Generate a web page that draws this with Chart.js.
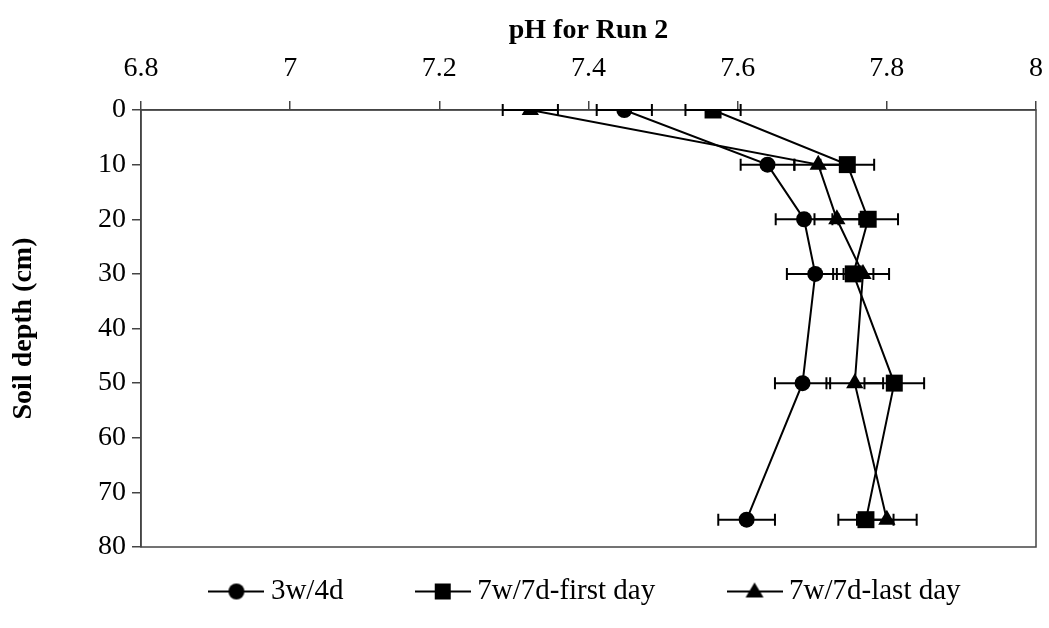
<!DOCTYPE html>
<html>
<head>
<meta charset="utf-8">
<script src="https://cdn.jsdelivr.net/npm/chart.js@4.4.1/dist/chart.umd.min.js"></script>
<style>
  html, body { margin: 0; padding: 0; background: #fff; }
  #wrap { width: 1049px; height: 628px; }
</style>
</head>
<body>
<div id="wrap"><canvas id="chart" width="1049" height="628"></canvas></div>
<script>
// ─── Data ──────────────────────────────────────────
const depths = [0, 10, 20, 30, 50, 75];

const ph3w4d = [7.448, 7.640, 7.689, 7.704, 7.687, 7.612];
const err3w4d = [0.037, 0.036, 0.038, 0.038, 0.037, 0.038];

const ph7wFirst = [7.567, 7.747, 7.775, 7.755, 7.810, 7.772];
const err7wFirst = [0.037, 0.036, 0.040, 0.027, 0.040, 0.037];

const ph7wLast = [7.322, 7.708, 7.733, 7.768, 7.757, 7.800];
const err7wLast = [0.037, 0.032, 0.030, 0.035, 0.038, 0.040];

const seriesLabels = ['3w/4d', '7w/7d-first day', '7w/7d-last day'];

const FONT = '"Liberation Serif", "Times New Roman", serif';
const AXIS_COLOR = '#444';

// ─── Legend symbols (line - marker - line) ─────────

function legendSymbol(kind) {
  const c = document.createElement('canvas');
  c.width = 56;
  c.height = 24;
  const g = c.getContext('2d');
  g.strokeStyle = '#000';
  g.fillStyle = '#000';
  g.lineWidth = 2;
  g.beginPath();
  g.moveTo(0, 12);
  g.lineTo(56, 12);
  g.stroke();
  g.beginPath();
  if (kind === 'circle') {
    g.arc(28, 12, 8, 0, Math.PI * 2);
  } else if (kind === 'rect') {
    g.rect(20, 4, 16, 16);
  } else {
    g.moveTo(28, 3);
    g.lineTo(37, 18);
    g.lineTo(19, 18);
    g.closePath();
  }
  g.fill();
  return c;
}

function toPoints(ys) {
  return ys.map((v, i) => ({ x: v, y: depths[i] }));
}

// ─── Plugins ───────────────────────────────────────

const errorBars = {
  id: 'errorBars',
  beforeDatasetsDraw(chart) {
    const { ctx, scales: { x, y } } = chart;
    ctx.save();
    ctx.strokeStyle = '#000';
    ctx.lineWidth = 2;
    chart.data.datasets.forEach((ds) => {
      ds.data.forEach((p, i) => {
        const e = ds.errors[i];
        const x0 = x.getPixelForValue(p.x - e);
        const x1 = x.getPixelForValue(p.x + e);
        const py = y.getPixelForValue(p.y);
        ctx.beginPath();
        ctx.moveTo(x0, py);
        ctx.lineTo(x1, py);
        ctx.moveTo(x0, py - 6);
        ctx.lineTo(x0, py + 6);
        ctx.moveTo(x1, py - 6);
        ctx.lineTo(x1, py + 6);
        ctx.stroke();
      });
    });
    ctx.restore();
  },
};

const plotFrame = {
  id: 'plotFrame',
  beforeDatasetsDraw(chart) {
    const { ctx, chartArea: a } = chart;
    ctx.save();
    ctx.strokeStyle = AXIS_COLOR;
    ctx.lineWidth = 1.5;
    ctx.strokeRect(a.left, a.top, a.right - a.left, a.bottom - a.top);
    ctx.restore();
  },
};

// ─── Chart ─────────────────────────────────────────

const gap = '\u2003\u2002\u2009'; // keeps the wide spacing between legend items
const datasets = [
  { label: seriesLabels[0], legendText: seriesLabels[0] + gap, data: toPoints(ph3w4d), errors: err3w4d, pointStyle: 'circle', pointRadius: 8, symbol: legendSymbol('circle') },
  { label: seriesLabels[1], legendText: seriesLabels[1] + gap, data: toPoints(ph7wFirst), errors: err7wFirst, pointStyle: 'rect', pointRadius: 12, symbol: legendSymbol('rect') },
  { label: seriesLabels[2], legendText: seriesLabels[2], data: toPoints(ph7wLast), errors: err7wLast, pointStyle: 'triangle', pointRadius: 10, symbol: legendSymbol('triangle') },
].map((d) => ({
  ...d,
  showLine: true,
  borderColor: '#000',
  backgroundColor: '#000',
  borderWidth: 2,
  pointBackgroundColor: '#000',
  pointBorderColor: '#000',
  pointBorderWidth: 0,
  tension: 0,
}));

new Chart(document.getElementById('chart'), {
  type: 'scatter',
  data: { datasets },
  plugins: [plotFrame, errorBars],
  options: {
    responsive: false,
    animation: false,
    devicePixelRatio: 1,
    layout: { padding: { top: 0, right: 13, bottom: 12, left: 0 } },
    plugins: {
      tooltip: { enabled: false },
      legend: {
        position: 'bottom',
        fullSize: false,
        labels: {
          color: '#000',
          font: { family: FONT, size: 29 },
          usePointStyle: true,
          pointStyleWidth: 40,
          padding: 30,
          generateLabels: (chart) =>
            chart.data.datasets.map((ds, i) => ({
              text: ds.legendText,
              pointStyle: ds.symbol,
              fillStyle: '#000',
              strokeStyle: '#000',
              lineWidth: 0,
              fontColor: '#000',
              datasetIndex: i,
            })),
        },
      },
    },
    scales: {
      x: {
        type: 'linear',
        position: 'top',
        min: 6.8,
        max: 8,
        ticks: {
          stepSize: 0.2,
          color: '#000',
          padding: 16,
          font: { family: FONT, size: 28 },
          callback: (v) => String(Math.round(v * 10) / 10),
        },
        grid: { drawOnChartArea: false, drawTicks: true, tickLength: 9, color: AXIS_COLOR, lineWidth: 1.5 },
        border: { display: true, color: AXIS_COLOR, width: 1.5 },
        title: {
          display: true,
          text: 'pH for Run 2',
          color: '#000',
          font: { family: FONT, size: 28, weight: 'bold' },
          padding: { top: 14, bottom: 0 },
        },
        afterFit: (scale) => {
          scale.height = 110;
          scale.paddingRight = 0;
        },
      },
      y: {
        type: 'linear',
        reverse: true,
        min: 0,
        max: 80,
        ticks: {
          stepSize: 10,
          color: '#000',
          padding: 6,
          font: { family: FONT, size: 28 },
        },
        grid: { drawOnChartArea: false, drawTicks: true, tickLength: 9, color: AXIS_COLOR, lineWidth: 1.5 },
        border: { display: true, color: AXIS_COLOR, width: 1.5 },
        title: {
          display: true,
          text: 'Soil depth (cm)',
          color: '#000',
          font: { family: FONT, size: 28, weight: 'bold' },
          padding: { top: 7, bottom: 0 },
        },
        afterFit: (scale) => { scale.width = 141; },
      },
    },
  },
});
</script>
</body>
</html>
